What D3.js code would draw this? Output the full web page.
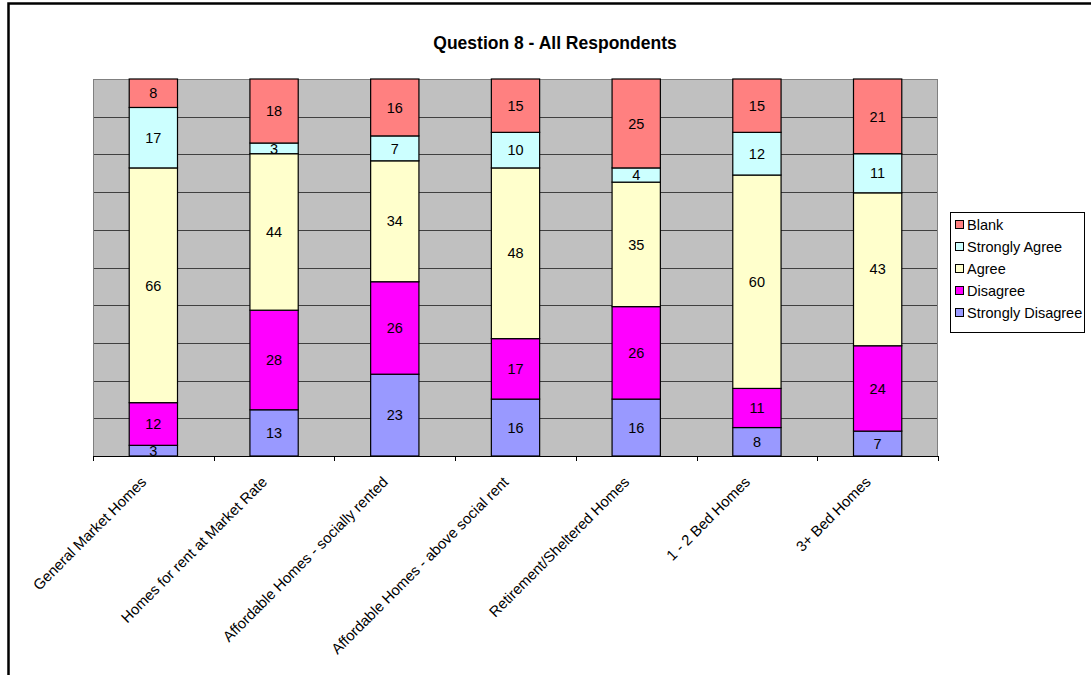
<!DOCTYPE html>
<html><head><meta charset="utf-8">
<script src="https://cdn.jsdelivr.net/npm/d3@7"></script>
<style>html,body{margin:0;padding:0;background:#fff;}svg{display:block;font-family:"Liberation Sans",Arial,sans-serif;}</style>
</head><body>
<svg id="chart" width="1091" height="675"></svg>
<script>
const categories = ["General Market Homes","Homes for rent at Market Rate","Affordable Homes - socially rented","Affordable Homes - above social rent","Retirement/Sheltered Homes","1 - 2 Bed Homes","3+ Bed Homes"];
const stronglyDisagree = [3,13,23,16,16,8,7];
const disagree = [12,28,26,17,26,11,24];
const agree = [66,44,34,48,35,60,43];
const stronglyAgree = [17,3,7,10,4,12,11];
const blank = [8,18,16,15,25,15,21];
const seriesNames = ["Strongly Disagree","Disagree","Agree","Strongly Agree","Blank"];
const seriesColors = ["#9999FF","#FF00FF","#FFFFCC","#CCFFFF","#FF8080"];
const gridTicks = [0.1,0.2,0.3,0.4,0.5,0.6,0.7,0.8,0.9,1.0];
const title = "Question 8 - All Respondents";

const seriesValues = [stronglyDisagree, disagree, agree, stronglyAgree, blank];
const rows = categories.map((c,i)=>{const r={cat:c}; seriesNames.forEach((s,j)=>r[s]=seriesValues[j][i]); return r;});

const svg = d3.select("#chart");
// outer frame
svg.append("rect").attr("x",8.5).attr("y",3.5).attr("width",1200).attr("height",800)
  .attr("fill","none").attr("stroke","#000").attr("stroke-width",2.5);

const L=93, R=938, T=79, B=456;
const x = d3.scaleBand().domain(categories).range([L,R]).paddingInner(0).paddingOuter(0);
const y = d3.scaleLinear().domain([0,1]).range([B,T]);

svg.append("text").attr("x",555).attr("y",49).attr("text-anchor","middle")
  .attr("font-size",17.5).attr("font-weight","bold").text(title);

svg.append("rect").attr("x",L).attr("y",T).attr("width",R-L).attr("height",B-T).attr("fill","#C0C0C0");
svg.append("g").selectAll("line").data(gridTicks).join("line")
  .attr("x1",L).attr("x2",R).attr("y1",d=>Math.round(y(d))+0.5).attr("y2",d=>Math.round(y(d))+0.5)
  .attr("stroke","#404040").attr("stroke-width",1);
svg.append("rect").attr("x",L+0.5).attr("y",T+0.5).attr("width",R-L-1).attr("height",B-T)
  .attr("fill","none").attr("stroke","#808080").attr("stroke-width",1);

const stack = d3.stack().keys(seriesNames).offset(d3.stackOffsetExpand);
const stacked = stack(rows);
const bw = x.bandwidth()*0.4;
const g = svg.append("g");
stacked.forEach((layer,j)=>{
  const lg = g.append("g");
  lg.selectAll("rect").data(layer).join("rect")
    .attr("x",d=>x(d.data.cat)+x.bandwidth()/2-bw/2)
    .attr("y",d=>y(d[1])).attr("width",bw).attr("height",d=>y(d[0])-y(d[1]))
    .attr("fill",seriesColors[j]).attr("stroke","#000").attr("stroke-width",1.2);
});
stacked.forEach((layer,j)=>{
  g.append("g").selectAll("text").data(layer).join("text")
    .attr("x",d=>x(d.data.cat)+x.bandwidth()/2)
    .attr("y",d=>(y(d[0])+y(d[1]))/2)
    .attr("dy","0.36em").attr("text-anchor","middle").attr("font-size",14.5)
    .text(d=>d.data[layer.key]);
});

// x axis
const xa = d3.axisBottom(x).tickSize(0).tickFormat("");
const ax = svg.append("g").attr("transform",`translate(0,${B})`).call(xa);
ax.select(".domain").attr("stroke","#000");
const bounds = d3.range(categories.length+1).map(i=>L+i*x.bandwidth());
svg.append("g").selectAll("line").data(bounds).join("line")
  .attr("x1",d=>Math.round(d)+0.5).attr("x2",d=>Math.round(d)+0.5).attr("y1",B).attr("y2",B+5).attr("stroke","#000");
svg.append("g").selectAll("text").data(categories).join("text")
  .attr("transform",d=>`translate(${x(d)+x.bandwidth()/2-6},${B+27}) rotate(-45)`)
  .attr("text-anchor","end").attr("font-size",14.8).text(d=>d);

// legend
const lgx=950, lgy=212;
svg.append("rect").attr("x",lgx+0.5).attr("y",lgy+0.5).attr("width",134).attr("height",120)
  .attr("fill","#fff").attr("stroke","#000").attr("stroke-width",1);
const legOrder = seriesNames.map((s,i)=>({s,c:seriesColors[i]})).reverse();
const li = svg.append("g").selectAll("g").data(legOrder).join("g")
  .attr("transform",(d,i)=>`translate(${lgx+5},${lgy+13+i*22})`);
li.append("rect").attr("x",0.5).attr("y",-4.5).attr("width",8).attr("height",8).attr("fill",d=>d.c).attr("stroke","#000");
li.append("text").attr("x",12).attr("y",0).attr("dy","0.36em").attr("font-size",14.5).text(d=>d.s);
</script>
</body></html>
